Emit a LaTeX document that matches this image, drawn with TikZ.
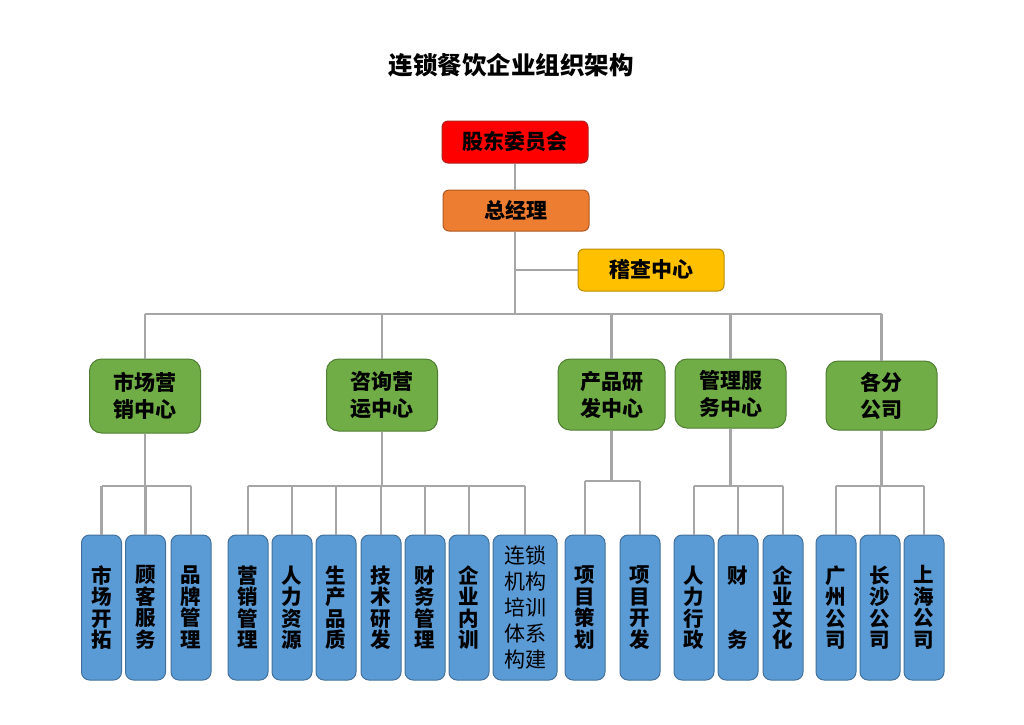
\documentclass[tikz,border=0pt]{standalone}
\usepackage{fontspec}
\setmainfont{Noto Sans CJK SC}
\definecolor{cRed}{HTML}{FF0000}
\definecolor{cRedB}{HTML}{B02020}
\definecolor{cOra}{HTML}{ED7D31}
\definecolor{cOraB}{HTML}{AE5A21}
\definecolor{cGold}{HTML}{FFC000}
\definecolor{cGoldB}{HTML}{BC8C00}
\definecolor{cGreen}{HTML}{70AD47}
\definecolor{cGreenB}{HTML}{507E32}
\definecolor{cBlue}{HTML}{5B9BD5}
\definecolor{cBlueB}{HTML}{41719C}
\definecolor{cLine}{HTML}{A6A6A6}
\begin{document}
\begin{tikzpicture}[x=1pt,y=-1pt,
  topbox/.style={draw, line width=1pt, inner sep=0pt, align=center, rounded corners=6pt,
    minimum width=146pt, minimum height=42pt, font=\bfseries\fontsize{21}{27}\selectfont},
  midbox/.style={draw=cGreenB, fill=cGreen, line width=1pt, inner sep=0pt, align=center, rounded corners=12pt,
    minimum width=111pt, minimum height=71pt, font=\bfseries\fontsize{21}{27}\selectfont},
  leaf/.style={draw=cBlueB, fill=cBlue, line width=1pt, inner sep=0pt, align=center, rounded corners=8pt,
    minimum width=40pt, minimum height=145pt, font=\bfseries\fontsize{20.5}{21.5}\selectfont},
  conn/.style={draw=cLine, line width=2.8pt}
]
\useasboundingbox[fill=white] (0,0) rectangle (1024,724);

\node[font=\bfseries\fontsize{24.5}{28}\selectfont] (title) at (511,65) {连锁餐饮企业组织架构};

% top
\node[topbox, draw=cRedB, fill=cRed] (gd) at (515,142) {股东委员会};
\node[topbox, draw=cOraB, fill=cOra, minimum height=41pt] (zjl) at (516,210.5) {总经理};
\node[topbox, draw=cGoldB, fill=cGold] (jc) at (651,270) {稽查中心};

% middle
\node[midbox, minimum height=74pt] (sc) at (145,396) {市场营\\销中心};
\node[midbox, minimum height=72pt] (zx) at (382,395) {咨询营\\运中心};
\node[midbox, minimum width=107pt] (cp) at (611.5,394.5) {产品研\\发中心};
\node[midbox, minimum height=69pt] (gl) at (730.5,393.5) {管理服\\务中心};
\node[midbox, minimum height=69pt] (fg) at (881.5,395.5) {各分\\公司};

% leaves
\node[leaf] (l1) at (101.5,607.5) {市\\场\\开\\拓};
\node[leaf] (l2) at (145.5,607.5) {顾\\客\\服\\务};
\node[leaf] (l3) at (191,607.5) {品\\牌\\管\\理};
\node[leaf] (l4) at (248,607.5) {营\\销\\管\\理};
\node[leaf] (l5) at (292,607.5) {人\\力\\资\\源};
\node[leaf] (l6) at (336,607.5) {生\\产\\品\\质};
\node[leaf] (l7) at (381,607.5) {技\\术\\研\\发};
\node[leaf] (l8) at (425,607.5) {财\\务\\管\\理};
\node[leaf] (l9) at (469,607.5) {企\\业\\内\\训};
\node[leaf, minimum width=64pt, font=\fontsize{21}{26}\selectfont] (l10) at (525,607.5) {连锁\\机构\\培训\\体系\\构建};
\node[leaf] (l11) at (585,607.5) {项\\目\\策\\划};
\node[leaf] (l12) at (640,607.5) {项\\目\\开\\发};
\node[leaf] (l13) at (694,607.5) {人\\力\\行\\政};
\node[leaf] (l14) at (738,607.5) {财\\[43pt]务};
\node[leaf] (l15) at (783,607.5) {企\\业\\文\\化};
\node[leaf] (l16) at (836,607.5) {广\\州\\公\\司};
\node[leaf] (l17) at (880,607.5) {长\\沙\\公\\司};
\node[leaf] (l18) at (924,607.5) {上\\海\\公\\司};

% coordinates for buses
\coordinate (tb) at (515,314);
\coordinate (jcj) at (515,270);

% top connectors
\draw[conn] (gd.south) -- (gd.south |- zjl.north);
\draw[conn] (zjl.south -| tb) -- (tb);
\draw[conn] (jcj) -- (jc.west);
\draw[conn] (sc.north |- tb) -- (fg.north |- tb);
\foreach \n in {sc,zx,cp,gl,fg} \draw[conn] (\n.north |- tb) -- (\n.north);

% lower buses
\coordinate (b1) at (0,486);
\coordinate (b2) at (0,481);
\draw[conn] (sc.south) -- (sc.south |- b1);
\draw[conn] (l1.north |- b1) -- (l3.north |- b1);
\foreach \n in {l1,l2,l3} \draw[conn] (\n.north |- b1) -- (\n.north);

\draw[conn] (zx.south) -- (zx.south |- b1);
\draw[conn] (l4.north |- b1) -- (l10.north |- b1);
\foreach \n in {l4,l5,l6,l7,l8,l9,l10} \draw[conn] (\n.north |- b1) -- (\n.north);

\draw[conn] (cp.south) -- (cp.south |- b2);
\draw[conn] (l11.north |- b2) -- (l12.north |- b2);
\foreach \n in {l11,l12} \draw[conn] (\n.north |- b2) -- (\n.north);

\draw[conn] (gl.south) -- (gl.south |- b1);
\draw[conn] (l13.north |- b1) -- (l15.north |- b1);
\foreach \n in {l13,l14,l15} \draw[conn] (\n.north |- b1) -- (\n.north);

\draw[conn] (fg.south) -- (fg.south |- b1);
\draw[conn] (l16.north |- b1) -- (l18.north |- b1);
\foreach \n in {l16,l17,l18} \draw[conn] (\n.north |- b1) -- (\n.north);
\end{tikzpicture}
\end{document}
